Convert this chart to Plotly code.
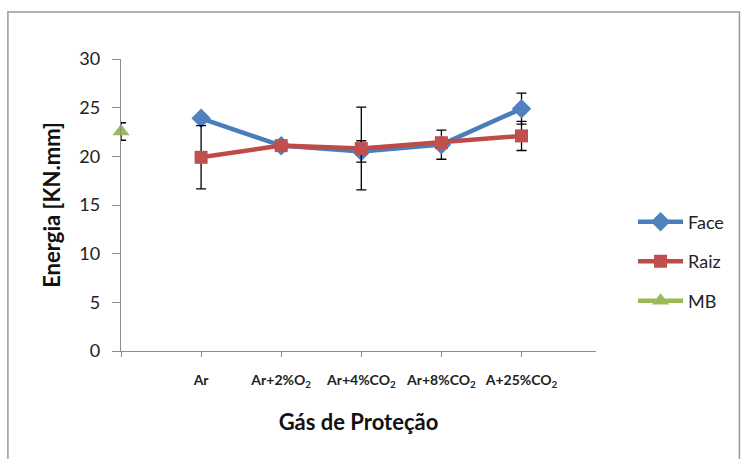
import plotly.graph_objects as go

categories = ["Ar", "Ar+2%O<sub>2</sub>", "Ar+4%CO<sub>2</sub>", "Ar+8%CO<sub>2</sub>", "A+25%CO<sub>2</sub>"]
face = [23.9, 21.1, 20.5, 21.2, 24.9]
face_err = [0.3, 0.3, 1.1, 1.5, 1.6]
raiz = [19.9, 21.1, 20.8, 21.4, 22.1]
raiz_err = [3.25, 0.3, 4.25, 0.3, 1.5]
mb = [22.55]
mb_err = [0.9]

x_pos = list(range(1, len(categories) + 1))
FONT = "Lato, 'Open Sans', sans-serif"

fig = go.Figure()
fig.add_trace(go.Scatter(
    x=x_pos, y=face, name="Face", mode="lines+markers", legendgroup="a",
    line=dict(color="#4A7EBB", width=4.5),
    marker=dict(symbol="diamond", size=15, color="#4F81BD"),
    error_y=dict(type="data", array=face_err, color="black", thickness=1.3, width=5),
    cliponaxis=False,
))
fig.add_trace(go.Scatter(
    x=x_pos, y=raiz, name="Raiz", mode="lines+markers", legendgroup="b",
    line=dict(color="#BE4B48", width=4.5),
    marker=dict(symbol="square", size=13, color="#C0504D"),
    error_y=dict(type="data", array=raiz_err, color="black", thickness=1.3, width=5),
    cliponaxis=False,
))
fig.add_trace(go.Scatter(
    x=[0], y=mb, name="MB", mode="lines+markers", legendgroup="c",
    line=dict(color="#98B954", width=4.5),
    marker=dict(symbol="triangle-up", size=15, color="#9BBB59"),
    error_y=dict(type="data", array=mb_err, color="black", thickness=1.3, width=5),
    cliponaxis=False,
))

fig.update_layout(
    width=741, height=459,
    margin=dict(l=121, r=137, t=59, b=108),
    paper_bgcolor="white", plot_bgcolor="white",
    font=dict(family=FONT, color="#222", size=13),
    showlegend=True,
    legend=dict(x=1.078, y=0.306, xanchor="left", yanchor="middle",
                traceorder="grouped", tracegroupgap=13, itemwidth=45,
                font=dict(size=18, color="#222"), bgcolor="rgba(0,0,0,0)"),
    xaxis=dict(
        range=[0, 5.93], tickmode="array", tickvals=[0] + x_pos, ticktext=[" "] + categories,
        showgrid=False, zeroline=False, showline=True, linecolor="#8c8c8c", linewidth=1.3,
        ticks="outside", ticklen=5, tickcolor="#8c8c8c", ticklabelstandoff=11,
        tickfont=dict(size=14, weight="bold", color="#222"),
        title=dict(text="<b>Gás de Proteção</b>", font=dict(size=22, color="#111"), standoff=25),
    ),
    yaxis=dict(
        range=[0, 30], tickvals=[0, 5, 10, 15, 20, 25, 30],
        showgrid=False, zeroline=False, showline=True, linecolor="#8c8c8c", linewidth=1.3,
        ticks="outside", ticklen=8, tickcolor="#8c8c8c", ticklabelstandoff=8,
        tickfont=dict(size=18, color="#222"),
        title=dict(text="<b>Energia [KN.mm]</b>", font=dict(size=22, color="#111"), standoff=12),
    ),
    shapes=[dict(type="rect", xref="paper", yref="paper",
                 x0=-0.2381, x1=1.302, y0=-0.405, y1=1.1607,
                 line=dict(color="#999999", width=1.5), fillcolor="rgba(0,0,0,0)", layer="below")],
)

fig.write_html("out.html", config={"displayModeBar": False},
               post_script="document.body.style.margin='0';")
